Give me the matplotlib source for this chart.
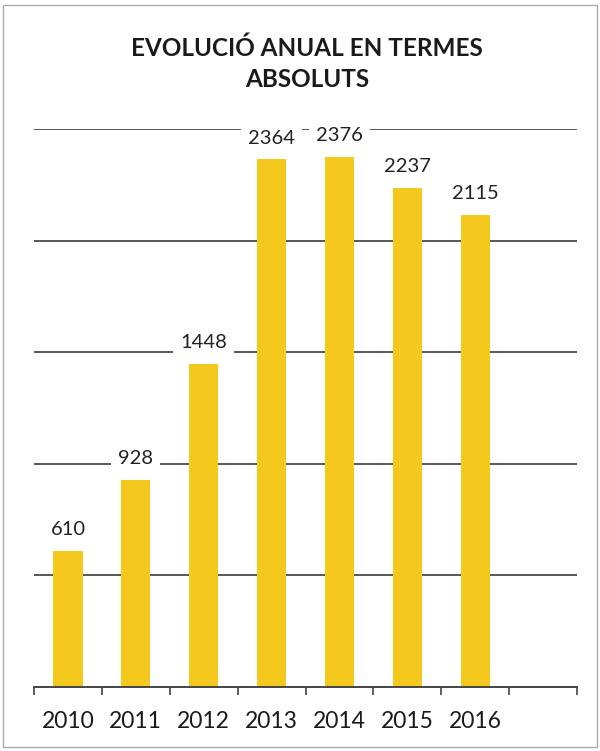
import matplotlib.pyplot as plt
from matplotlib.patches import Rectangle

# data
years = ["2010", "2011", "2012", "2013", "2014", "2015", "2016"]
values = [610, 928, 1448, 2364, 2376, 2237, 2115]
grid_levels = [500, 1000, 1500, 2000, 2500]
TITLE = "EVOLUCIÓ ANUAL EN TERMES\nABSOLUTS"

BAR_COLOR = "#F4C81C"
FONT = "Lato"

fig = plt.figure(figsize=(6, 7.51), dpi=100)
ax = fig.add_axes([34 / 600, 1 - 687 / 751, 543 / 600, 558 / 751])

x = list(range(len(years)))

# gridlines under the bars
for g in grid_levels:
    ax.axhline(g, color="#2a2a2a", lw=1.1, zorder=1)

ax.bar(x, values, width=0.43, color=BAR_COLOR, zorder=2)

for xi, v in zip(x, values):
    ax.annotate(str(v), (xi, v), xytext=(0, 9), textcoords="offset points",
                ha="center", va="bottom", fontsize=14.5, family=FONT,
                color="#222222", zorder=3, annotation_clip=False,
                bbox=dict(boxstyle="square,pad=0.35", fc="white", ec="none"))

ax.set_xlim(-0.5, 7.5)
ax.set_ylim(0, 2500)

# tick marks at slot boundaries, labels at bar centres
ax.set_xticks([i - 0.5 for i in range(9)])
ax.set_xticklabels([])
ax.set_xticks(x, minor=True)
ax.set_xticklabels(years, minor=True, fontsize=16.5, family=FONT, color="#1a1a1a")
ax.tick_params(axis="x", which="major", length=6, width=1.2, color="#444444", direction="out")
ax.tick_params(axis="x", which="minor", length=0, pad=17)
ax.set_yticks([])

for s in ["left", "right", "top"]:
    ax.spines[s].set_visible(False)
ax.spines["bottom"].set_color("#444444")
ax.spines["bottom"].set_linewidth(1.4)

fig.text(307 / 600, 1 - 64 / 751, TITLE, ha="center", va="center",
         fontsize=17.5, fontweight="bold", family=FONT, color="#1a1a1a",
         linespacing=1.4)

# scanned frame around the chart
fig.patches.append(Rectangle((3 / 600, 4 / 751), 594 / 600, 742 / 751,
                             transform=fig.transFigure, fill=False,
                             ec="#aaaaaa", lw=1.0))

fig.savefig("out.png", dpi=100)
